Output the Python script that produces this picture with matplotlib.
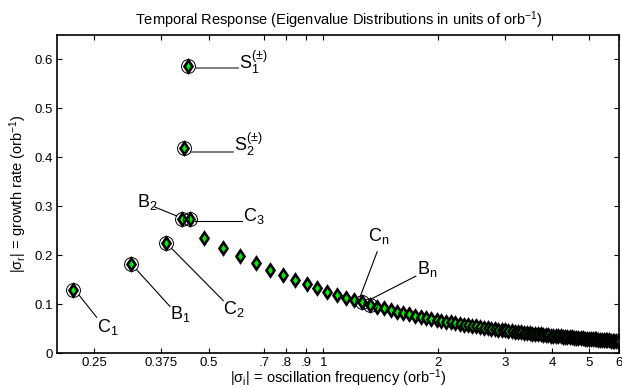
import matplotlib
matplotlib.use('Agg')
import matplotlib.pyplot as plt

plt.rcParams['font.family'] = ['Liberation Sans', 'DejaVu Sans']
plt.rcParams['mathtext.fontset'] = 'custom'
plt.rcParams['mathtext.rm'] = 'Liberation Sans'
plt.rcParams['mathtext.it'] = 'Liberation Sans'
plt.rcParams['mathtext.sf'] = 'Liberation Sans'
plt.rcParams['mathtext.default'] = 'rm'

# isolated modes (C1, B1, C2, C3, S2, S1)
mode_x = [0.220, 0.313, 0.385, 0.446, 0.431, 0.441]
mode_y = [0.129, 0.182, 0.224, 0.273, 0.418, 0.586]

# continuum of modes, sigma_i vs sigma_r
cont_x = [0.425, 0.485, 0.545, 0.605, 0.665, 0.725, 0.785, 0.845, 0.905, 0.965,
          1.025, 1.085, 1.145, 1.205, 1.265, 1.325, 1.385, 1.445, 1.505, 1.565,
          1.625, 1.685, 1.745, 1.805, 1.865, 1.925, 1.985, 2.045, 2.105, 2.165,
          2.225, 2.285, 2.345, 2.405, 2.465, 2.525, 2.585, 2.645, 2.705, 2.765,
          2.825, 2.885, 2.945, 3.005, 3.065, 3.125, 3.185, 3.245, 3.305, 3.365,
          3.425, 3.485, 3.545, 3.605, 3.665, 3.725, 3.785, 3.845, 3.905, 3.965,
          4.025, 4.085, 4.145, 4.205, 4.265, 4.325, 4.385, 4.445, 4.505, 4.565,
          4.625, 4.685, 4.745, 4.805, 4.865, 4.925, 4.985, 5.045, 5.105, 5.165,
          5.225, 5.285, 5.345, 5.405, 5.465, 5.525, 5.585, 5.645, 5.705, 5.765,
          5.825, 5.885, 5.945, 6.005]
cont_y = [0.273, 0.235, 0.215, 0.198, 0.183, 0.170, 0.159, 0.149, 0.140, 0.132,
          0.125, 0.119, 0.1132, 0.1080, 0.1032, 0.0988, 0.0948, 0.0912, 0.0878, 0.0847,
          0.0817, 0.0790, 0.0765, 0.0741, 0.0719, 0.0698, 0.0679, 0.0660, 0.0643, 0.0626,
          0.0610, 0.0595, 0.0581, 0.0568, 0.0555, 0.0543, 0.0531, 0.0520, 0.0509, 0.0499,
          0.0489, 0.0479, 0.0470, 0.0461, 0.0453, 0.0445, 0.0437, 0.0430, 0.0422, 0.0415,
          0.0409, 0.0402, 0.0396, 0.0390, 0.0384, 0.0378, 0.0372, 0.0367, 0.0362, 0.0357,
          0.0352, 0.0347, 0.0342, 0.0338, 0.0333, 0.0329, 0.0325, 0.0321, 0.0317, 0.0313,
          0.0309, 0.0305, 0.0302, 0.0298, 0.0295, 0.0291, 0.0288, 0.0285, 0.0282, 0.0279,
          0.0276, 0.0273, 0.0270, 0.0267, 0.0265, 0.0262, 0.0259, 0.0257, 0.0254, 0.0252,
          0.0249, 0.0247, 0.0245, 0.0243]

# circled modes
circ_x = [0.220, 0.313, 0.385, 0.425, 0.446, 0.431, 0.441, 1.265, 1.325]
circ_y = [0.129, 0.182, 0.224, 0.273, 0.273, 0.418, 0.586, 0.1032, 0.0988]

# labels: text, line start, line end, text position, line colour
labels = [
    (r'$C_1$', (0.2284, 0.1177), (0.2537, 0.0731), (0.2545, 0.042), 'k'),
    (r'$B_1$', (0.3233, 0.170), (0.3956, 0.095), (0.3956, 0.070), 'k'),
    (r'$C_2$', (0.3996, 0.2135), (0.546, 0.107), (0.546, 0.080), 'k'),
    (r'$B_2$', (0.361, 0.298), (0.4117, 0.280), (0.323, 0.298), 'k'),
    (r'$C_3$', (0.460, 0.2696), (0.610, 0.2696), (0.614, 0.270), 'k'),
    (r'$S_2^{(\pm)}$', (0.451, 0.410), (0.579, 0.410), (0.581, 0.412), '0.45'),
    (r'$S_1^{(\pm)}$', (0.462, 0.582), (0.597, 0.582), (0.599, 0.580), '0.45'),
    (r'$C_n$', (1.386, 0.2066), (1.249, 0.114), (1.313, 0.229), 'k'),
    (r'$B_n$', (1.752, 0.157), (1.327, 0.109), (1.760, 0.161), 'k'),
]

xticks = [0.25, 0.375, 0.5, 0.7, 0.8, 0.9, 1, 2, 3, 4, 5, 6]
xticklabels = ['0.25', '0.375', '0.5', '.7', '.8', '.9', '1', '2', '3', '4', '5', '6']
yticks = [0, 0.1, 0.2, 0.3, 0.4, 0.5, 0.6]
yticklabels = ['0', '0.1', '0.2', '0.3', '0.4', '0.5', '0.6']

fig = plt.figure(figsize=(6.22, 3.87), dpi=100)
ax = fig.add_axes([57.3 / 622, 34 / 387, 562 / 622, 318.3 / 387])

ax.plot(cont_x, cont_y, 'd', ms=6.5, mfc='#00ee00', mec='k', mew=1.9, zorder=2)
ax.plot(mode_x, mode_y, 'd', ms=6.5, mfc='#00ee00', mec='k', mew=1.9, zorder=2)
ax.plot(circ_x, circ_y, 'o', ms=10, mfc='none', mec='k', mew=0.7, zorder=3)

for txt, p0, p1, pt, col in labels:
    ax.plot([p0[0], p1[0]], [p0[1], p1[1]], '-', color=col,
            lw=1.3 if col != 'k' else 0.8, zorder=1)
    ax.text(pt[0], pt[1], txt, fontsize=13, ha='left', va='baseline')

ax.set_xscale('log')
ax.set_xlim(0.2, 6)
ax.set_ylim(0, 0.65)
ax.set_xticks(xticks)
ax.set_xticklabels(xticklabels)
ax.minorticks_off()
ax.set_yticks(yticks)
ax.set_yticklabels(yticklabels)
ax.tick_params(direction='in', length=3.5, width=0.8, labelsize=9.5,
               top=True, right=True, pad=3)
for s in ax.spines.values():
    s.set_linewidth(1.2)

ax.set_title(r'Temporal Response (Eigenvalue Distributions in units of orb$^{-1}$)',
             fontsize=10.5, pad=7)
ax.set_xlabel(r'$|\sigma_i|$ = oscillation frequency (orb$^{-1}$)', fontsize=10.5,
              labelpad=-1.5)
ax.set_ylabel(r'$|\sigma_r|$ = growth rate (orb$^{-1}$)', fontsize=10.5, labelpad=4)

fig.savefig('out.png', dpi=100)
